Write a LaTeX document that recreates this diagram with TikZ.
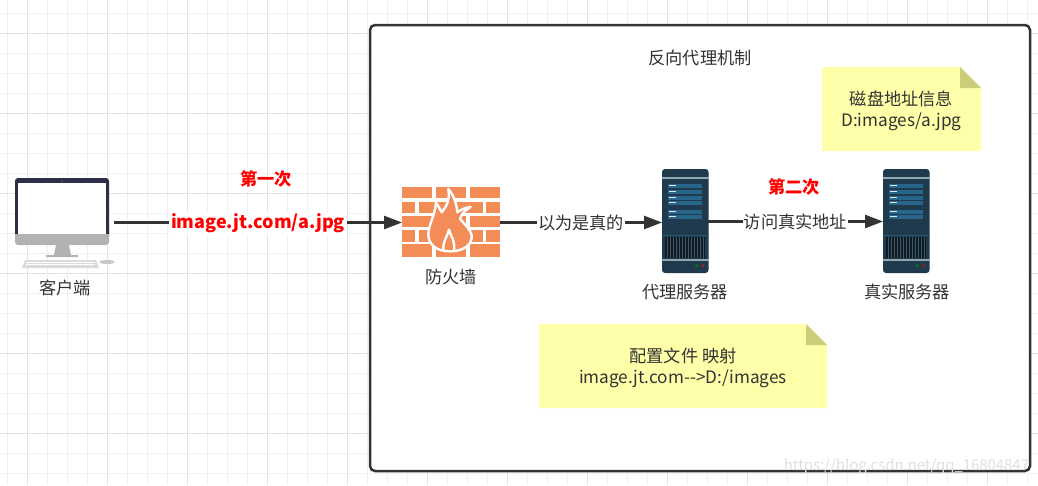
\documentclass[tikz,border=0pt]{standalone}
\usepackage{fontspec}
\setmainfont{Noto Sans CJK SC}
\usetikzlibrary{arrows.meta}
\definecolor{ink}{HTML}{333333}
\definecolor{brick}{HTML}{F48C57}
\definecolor{srv}{HTML}{1F3A4C}
\definecolor{srvblue}{HTML}{28658A}
\definecolor{srvline}{HTML}{93A7B3}
\definecolor{notefill}{HTML}{FFFFA9}
\definecolor{notefold}{HTML}{CDCD79}
\definecolor{gridminor}{HTML}{F1F1F1}
\definecolor{gridmajor}{HTML}{E3E3E3}
\tikzset{
  anchorbox/.style={inner sep=0pt,outer sep=0pt},
  label text/.style={text=ink,font=\fontsize{17.2}{21}\selectfont,inner sep=0pt,align=center},
  edge label/.style={label text,fill=white,inner xsep=1pt,inner ysep=2pt},
  red label/.style={text=red,font=\fontsize{17.2}{20}\selectfont\bfseries,inner sep=0pt},
  link/.style={draw=ink,line width=2.4pt,-{Triangle[length=18pt,width=13pt]}},
  notebody/.style={fill=notefill},
  notecorner/.style={fill=notefold},
  pics/serverbox/.style={code={
    \fill[srv,rounded corners=3pt] (0,0) rectangle (46.5,104);
    \fill[srvline] (0,8) rectangle (46.5,9.6);
    \fill[srvline] (0,90) rectangle (46.5,91.6);
    \fill[srvblue!70!srv] (0,65.7) rectangle (46.5,66.4);
    \foreach \yy in {15,20.5,27,32,41,46}{
      \fill[srvblue] (6,\yy) rectangle (40,\yy+4);
      \fill[white!85!srvblue] (7,\yy+1.2) rectangle (14,\yy+2.4);
    }
    \fill[black!55!srv] (3,68) rectangle (43,89);
    \foreach \xx in {4.5,7.5,...,42}{
      \fill[srv!85!white] (\xx,68) rectangle (\xx+0.9,89);
    }
    \fill[green!55!black!80!srv] (34.5,96.7) circle (1.7);
    \fill[red!60!black!80!srv!90!white] (41,96.7) circle (1.7);
  }}
}
\begin{document}
\begin{tikzpicture}[x=1pt,y=-1pt]
\useasboundingbox (0,0) rectangle (1038,485);
\fill[white] (0,0) rectangle (1038,485);
% background grid
\foreach \k in {0,...,52}{
  \draw[gridminor,line width=1pt] ({7.5+20*\k},0) -- ({7.5+20*\k},485);
}
\foreach \k in {0,...,24}{
  \draw[gridminor,line width=1pt] (0,{13.5+20*\k}) -- (1038,{13.5+20*\k});
}
\foreach \k in {0,...,12}{
  \draw[gridmajor,line width=1pt] ({27.5+80*\k},0) -- ({27.5+80*\k},485);
}
\foreach \k in {0,...,5}{
  \draw[gridmajor,line width=1pt] (0,{33.5+80*\k}) -- (1038,{33.5+80*\k});
}
% frame
\node[anchorbox,draw=ink,line width=2.5pt,fill=white,rounded corners=5pt,minimum width=660pt,minimum height=446pt] (frame) at (700,248) {};
\node[label text] (title) at (700,58) {反向代理机制};
% notes
\fill[notebody] (822,67) -- (960,67) -- (981,88) -- (981,151) -- (822,151) -- cycle;
\fill[notecorner] (960,67) -- (981,88) -- (960,88) -- cycle;
\node[label text] (noteA) at (901.5,110.5) {磁盘地址信息\\D:images/a.jpg};
\fill[notebody] (539,324) -- (806,324) -- (827,345) -- (827,408) -- (539,408) -- cycle;
\fill[notecorner] (806,324) -- (827,345) -- (806,345) -- cycle;
\node[label text] (noteB) at (683,367.5) {配置文件 映射\\image.jt.com\mbox{-}\mbox{-}>D:/images};
% client
\node[anchorbox,minimum width=94pt,minimum height=90pt] (client) at (62,222.5) {};
\begin{scope}
  \fill[black!14] (22,268) -- (25,260) -- (96,260) -- (99,268) -- cycle;
  \foreach \yy in {262,264.5}{\draw[white,line width=1pt] (26,\yy) -- (95,\yy);}
  \fill[black!22] (107,262) ellipse (7.5 and 2);
  \fill[black!30] (56,245) -- (69,245) -- (71,255) -- (78,255) -- (78,257) -- (46,257) -- (46,255) -- (54,255) -- cycle;
  \fill[black!30,rounded corners=3pt] (15,225) rectangle (109,245);
  \fill[ink!90!blue,rounded corners=3pt] (15,178) rectangle (109,238);
  \fill[ink!90!blue] (15,230) rectangle (109,234);
  \fill[black!30] (15,234) rectangle (109,240);
  \fill[white] (17.5,183) rectangle (105.5,234);
  \fill[black!60] (62,181) circle (.8);
\end{scope}
\node[label text] (clientlabel) at (65,288) {客户端};
% firewall
\node[anchorbox,minimum width=98pt,minimum height=70pt] (fw) at (451,222.5) {};
\begin{scope}
  \foreach \a/\b/\c/\d in {
    402/432/187/198,436/466/187/198,470/500/187/198,
    402/415/202/213,419/449/202/213,453/483/202/213,486/500/202/213,
    402/432/216/227,436/466/216/227,470/500/216/227,
    402/415/230/242,419/449/230/242,453/483/230/242,486/500/230/242,
    402/432/244/257,436/466/244/257,470/500/244/257}{
    \fill[brick] (\a,\c) rectangle (\b,\d);
  }
\end{scope}
\begin{scope}[shift={(400,183)},x=.3333pt,y=-.3333pt]
  \draw[white,line width=2.4pt,fill=brick,line join=round]
    (150,205) .. controls (110,205) and (85,185) .. (85,155)
    .. controls (85,125) and (105,100) .. (108,58)
    .. controls (115,70) and (120,78) .. (125,88)
    .. controls (140,70) and (150,50) .. (145,18)
    .. controls (160,35) and (170,60) .. (172,88)
    .. controls (185,78) and (197,74) .. (212,72)
    .. controls (195,82) and (185,92) .. (180,108)
    .. controls (195,125) and (218,145) .. (215,165)
    .. controls (212,190) and (185,205) .. (150,205) -- cycle;
  \draw[white,line width=2.4pt,line join=round]
    (130,203) .. controls (128,175) and (140,165) .. (147,140)
    .. controls (152,160) and (166,172) .. (162,203);
\end{scope}
\node[label text] (fwlabel) at (451,277) {防火墙};
% servers
\node[anchorbox,minimum width=46pt,minimum height=104pt] (proxy) at (685,221.5) {};
\pic at (662,169) {serverbox};
\node[label text] (proxylabel) at (685,292) {代理服务器};
\node[anchorbox,minimum width=46pt,minimum height=104pt] (real) at (906,221.5) {};
\pic at (883,169) {serverbox};
\node[label text] (reallabel) at (907,292) {真实服务器};
% connectors
\draw[link] ([xshift=5pt]client.east) -- (fw.west) node[midway,yshift=-1pt,fill=white,inner sep=2pt,text=red,font=\fontsize{18}{22}\selectfont\bfseries] (urllabel) {image.jt.com/a.jpg};
\draw[link] (fw.east) -- (proxy.west|-fw.east) node[midway,edge label] (fakelabel) {以为是真的};
\draw[link] (proxy.east) -- (real.west) node[midway,edge label] (visitlabel) {访问真实地址};
% red captions
\node[red label] (first) at (266,179) {第一次};
\node[red label] (second) at (794,187) {第二次};
% watermark
\node[anchorbox,text=black!12,font=\fontsize{14.9}{16}\selectfont,anchor=east] (wm) at (1029,466) {https://blog.csdn.net/qq\_16804847};
\end{tikzpicture}
\end{document}
